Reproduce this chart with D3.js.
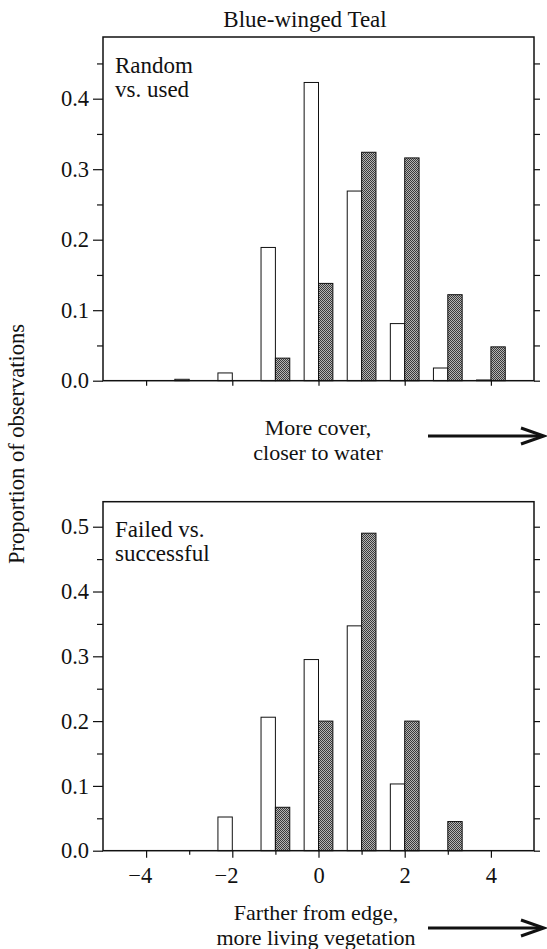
<!DOCTYPE html>
<html>
<head>
<meta charset="utf-8">
<script src="https://cdn.jsdelivr.net/npm/d3@7"></script>
<style>
  body { margin: 0; background: #fff; }
</style>
</head>
<body>
<div id="chart"></div>
<script>
// Data
const categories = [-4, -3, -2, -1, 0, 1, 2, 3, 4];

// top panel: random vs. used
const randomVals = [0, 0.002, 0.011, 0.189, 0.423, 0.269, 0.081, 0.018, 0.001];
const usedVals = [0, 0, 0, 0.032, 0.138, 0.324, 0.316, 0.122, 0.048];

// bottom panel: failed vs. successful
const failedVals = [0, 0, 0.052, 0.206, 0.295, 0.347, 0.103, 0, 0];
const successVals = [0, 0, 0, 0.067, 0.2, 0.49, 0.2, 0.045, 0];

const xTicks = [-4, -2, 0, 2, 4];
const xMinorTicks = [-3, -1, 1, 3];
const yTicksTop = [0.0, 0.1, 0.2, 0.3, 0.4];
const yTicksBottom = [0.0, 0.1, 0.2, 0.3, 0.4, 0.5];

const serif = "'Liberation Serif', 'Times New Roman', Times, 'DejaVu Serif', serif";

let width = 547,
    height = 949;

let svg = d3.select('#chart')
    .append('svg')
    .attr('width', width)
    .attr('height', height)
    .attr('font-family', serif);

// stipple pattern for the dark bars
let pat = svg.append('defs').append('pattern')
    .attr('id', 'stipple')
    .attr('width', 2)
    .attr('height', 2)
    .attr('patternUnits', 'userSpaceOnUse');
pat.append('rect').attr('width', 2).attr('height', 2).attr('fill', '#b4b4b4');
pat.append('rect').attr('x', 0).attr('y', 0).attr('width', 1).attr('height', 1).attr('fill', '#3a3a3a');
pat.append('rect').attr('x', 1).attr('y', 1).attr('width', 1).attr('height', 1).attr('fill', '#3a3a3a');

let xScale = d3.scaleLinear()
    .domain([-5, 5])
    .range([103, 534]);

const barW = xScale(1 / 3) - xScale(0);

function addText(sel, size) {
    return sel.append('text')
        .attr('font-family', serif)
        .attr('font-size', size)
        .attr('fill', '#111');
}

function drawPanel(opts) {
    let yScale = d3.scaleLinear()
        .domain([0, opts.yMax])
        .range([opts.bottom, opts.top]);

    let g = svg.append('g');

    // bars: open to the left of the value, shaded to the right
    categories.forEach(function(c, i) {
        if (opts.open[i] > 0) {
            g.append('rect')
                .attr('x', xScale(c) - barW)
                .attr('y', yScale(opts.open[i]))
                .attr('width', barW)
                .attr('height', yScale(0) - yScale(opts.open[i]))
                .attr('fill', '#fff')
                .attr('stroke', '#111')
                .attr('stroke-width', 1);
        }
        if (opts.filled[i] > 0) {
            g.append('rect')
                .attr('x', xScale(c))
                .attr('y', yScale(opts.filled[i]))
                .attr('width', barW)
                .attr('height', yScale(0) - yScale(opts.filled[i]))
                .attr('fill', 'url(#stipple)')
                .attr('stroke', '#111')
                .attr('stroke-width', 1);
        }
    });

    // frame
    g.append('rect')
        .attr('x', xScale(-5))
        .attr('y', opts.top)
        .attr('width', xScale(5) - xScale(-5))
        .attr('height', opts.bottom - opts.top)
        .attr('fill', 'none')
        .attr('stroke', '#111')
        .attr('stroke-width', 1.5);

    // left axis, major and minor
    let yMinor = d3.range(0.05, opts.yMax, 0.1);
    g.append('g')
        .attr('transform', `translate(${xScale(-5)},0)`)
        .call(d3.axisLeft(yScale).tickValues(opts.yTicks).tickFormat(d3.format('.1f')).tickSize(10).tickPadding(4));
    g.append('g')
        .attr('transform', `translate(${xScale(-5)},0)`)
        .call(d3.axisLeft(yScale).tickValues(yMinor).tickFormat('').tickSize(6));

    // right axis ticks
    g.append('g')
        .attr('transform', `translate(${xScale(5)},0)`)
        .call(d3.axisRight(yScale).tickValues(opts.yTicks.concat(yMinor)).tickFormat('').tickSize(6));

    // bottom axis
    let xAxis = g.append('g')
        .attr('transform', `translate(0,${opts.bottom})`)
        .call(d3.axisBottom(xScale).tickValues(xTicks).tickSize(opts.labels ? 7 : 5).tickPadding(9)
            .tickFormat(opts.labels ? (d => d < 0 ? '\u2212' + Math.abs(d) : d) : ''));
    if (opts.labels) {
        g.append('g')
            .attr('transform', `translate(0,${opts.bottom})`)
            .call(d3.axisBottom(xScale).tickValues(xMinorTicks).tickFormat('').tickSize(4));
    }

    g.selectAll('g').attr('font-family', serif).attr('font-size', 22.5);
    g.selectAll('.domain').attr('stroke', 'none');
    g.selectAll('.tick line').attr('stroke', '#111').attr('stroke-width', 1.2);
    g.selectAll('.tick text').attr('fill', '#111');
    if (opts.labels) {
        xAxis.attr('font-size', 23.5);
        xAxis.selectAll('text')
            .attr('dx', d => d < 0 ? '-0.28em' : 0);
    }

    // panel note
    let note = addText(g, 23)
        .attr('x', 115)
        .attr('y', opts.top + opts.noteY);
    note.append('tspan').attr('x', 115).text(opts.note[0]);
    note.append('tspan').attr('x', 115).attr('dy', 24).text(opts.note[1]);

    // caption with arrow, one text per line
    opts.caption.forEach(function(line, i) {
        addText(g, 22)
            .attr('x', opts.capX)
            .attr('y', opts.capY + i * 24.5)
            .attr('text-anchor', 'middle')
            .text(line);
    });

    let ay = opts.arrowY;
    g.append('line')
        .attr('x1', 428).attr('x2', 543)
        .attr('y1', ay).attr('y2', ay)
        .attr('stroke', '#111')
        .attr('stroke-width', 3);
    g.append('path')
        .attr('d', `M521,${ay - 8} L544,${ay} L521,${ay + 8}`)
        .attr('fill', 'none')
        .attr('stroke', '#111')
        .attr('stroke-width', 3);
}

drawPanel({
    top: 37, bottom: 380.7, yMax: 0.4875, yTicks: yTicksTop,
    open: randomVals, filled: usedVals, labels: false,
    note: ['Random', 'vs. used'], noteY: 36,
    caption: ['More cover,', 'closer to water'], capX: 318, capY: 435,
    arrowY: 436
});

drawPanel({
    top: 501.7, bottom: 850.7, yMax: 0.5386, yTicks: yTicksBottom,
    open: failedVals, filled: successVals, labels: true,
    note: ['Failed vs.', 'successful'], noteY: 35,
    caption: ['Farther from edge,', 'more living vegetation'], capX: 316, capY: 920,
    arrowY: 928
});

// title
addText(svg, 23)
    .attr('x', 305)
    .attr('y', 27)
    .attr('text-anchor', 'middle')
    .text('Blue-winged Teal');

// y-axis label
addText(svg, 22.5)
    .attr('x', -444)
    .attr('y', 24)
    .attr('transform', 'rotate(-90)')
    .attr('text-anchor', 'middle')
    .text('Proportion of observations');
</script>
</body>
</html>
